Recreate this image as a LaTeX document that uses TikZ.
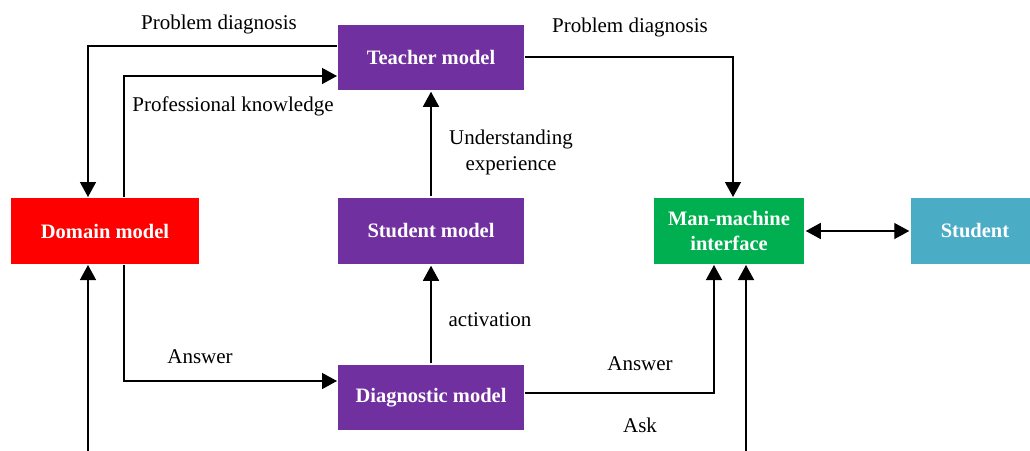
\documentclass[tikz,border=0pt]{standalone}
\usepackage{fontspec}
\setmainfont{Liberation Serif}
\usetikzlibrary{arrows.meta,shadows}
\definecolor{cpurple}{HTML}{7030A0}
\definecolor{cred}{HTML}{FF0000}
\definecolor{cgreen}{HTML}{00B050}
\definecolor{cteal}{HTML}{4BACC6}
\tikzset{
  box/.style={draw=white, line width=1.5pt, text=white, inner sep=0pt,
    font=\fontsize{20.5}{25}\selectfont\bfseries, align=center,
    drop shadow={shadow xshift=1.2pt, shadow yshift=-1.2pt, fill=black!25, opacity=0.5}},
  lbl/.style={font=\fontsize{21}{26}\selectfont, align=center, inner sep=0pt},
  arr/.style={line width=1.4pt, -{Triangle[length=15pt,width=16pt]}},
  darr/.style={line width=1.4pt, {Triangle[length=15pt,width=16pt]}-{Triangle[length=15pt,width=16pt]}},
}
\begin{document}
\begin{tikzpicture}[x=1pt,y=-1pt]
\useasboundingbox (0,0) rectangle (1030,450);
% boxes
\node[box, fill=cpurple, minimum width=188pt, minimum height=67pt] (teacher) at (431,57.5) {Teacher model};
\node[box, fill=cred, minimum width=190pt, minimum height=68pt] (domain) at (105,231) {Domain model};
\node[box, fill=cpurple, minimum width=188pt, minimum height=68pt] (smodel) at (431,231) {Student model};
\node[box, fill=cgreen, minimum width=152pt, minimum height=68pt] (mmi) at (729,231) {Man-machine\\interface};
\node[box, fill=cteal, minimum width=130pt, minimum height=68pt] (student) at (975,231) {Student};
\node[box, fill=cpurple, minimum width=188pt, minimum height=67pt] (diag) at (431,397.5) {Diagnostic model};
% bend points
\coordinate (t1) at (337,46);
\coordinate (b1) at (88,46);
\coordinate (d1) at (88,197);
\coordinate (d2) at (124,197);
\coordinate (b2) at (124,76);
\coordinate (t2) at (337,76);
\coordinate (t3) at (525,57);
\coordinate (b3) at (733,57);
\coordinate (m1) at (733,197);
\coordinate (d3) at (124,265);
\coordinate (b4) at (124,381);
\coordinate (g1) at (337,381);
\coordinate (g2) at (525,393);
\coordinate (b5) at (714,393);
\coordinate (m2) at (714,265);
\coordinate (e1) at (746,452);
\coordinate (m3) at (746,265);
\coordinate (e2) at (88,452);
\coordinate (d4) at (88,265);
% connectors
\draw[arr] (t1) -- (b1) -- (d1);
\draw[arr] (d2) -- (b2) -- (t2);
\draw[arr] (t3) -- (b3) -- (m1);
\draw[arr] (smodel.north) -- (teacher.south);
\draw[darr] (mmi.east) -- (student.west);
\draw[arr] (d3) -- (b4) -- (g1);
\draw[arr] (diag.north) -- (smodel.south);
\draw[arr] (g2) -- (b5) -- (m2);
\draw[arr] (e1) -- (m3);
\draw[arr] (e2) -- (d4);
% labels
\node[lbl] (l1) at (219,24) {Problem diagnosis};
\node[lbl] (l2) at (233,106) {Professional knowledge};
\node[lbl] (l3) at (630,27) {Problem diagnosis};
\node[lbl] (l4) at (511,152) {Understanding\\experience};
\node[lbl] (l5) at (200,357) {Answer};
\node[lbl] (l6) at (490,320) {activation};
\node[lbl] (l7) at (640,364) {Answer};
\node[lbl] (l8) at (640,425) {Ask};
\end{tikzpicture}
\end{document}
